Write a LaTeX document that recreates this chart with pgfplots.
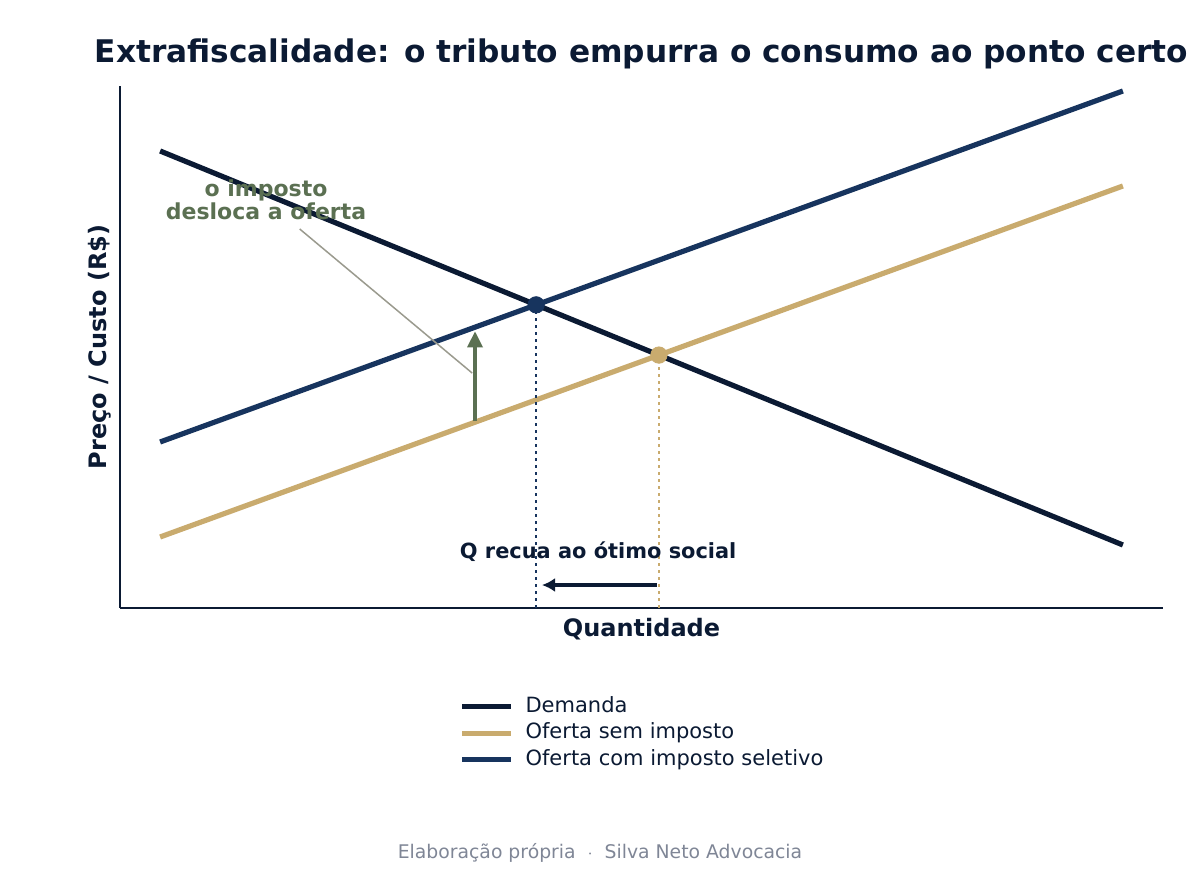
\documentclass[border=0pt]{standalone}
\usepackage{pgfplots}
\pgfplotsset{compat=1.18}
\usepackage{fontspec}
\setmainfont{DejaVu Sans}
\usetikzlibrary{arrows.meta}

\definecolor{navy}{HTML}{0B1A33}
\definecolor{supblue}{HTML}{17345E}
\definecolor{tan}{HTML}{C9AB6E}
\definecolor{sage}{HTML}{5B7052}
\definecolor{annogray}{HTML}{9A9A8E}
\definecolor{footgray}{HTML}{7F8696}

\begin{document}
\begin{tikzpicture}
    % page = 1200 x 870 px, 1px = 0.5pt
    \useasboundingbox (0,0) rectangle (600pt,435pt);
    \begin{axis}[
        at={(60pt,131pt)}, anchor=south west,
        scale only axis,
        width=521.5pt, height=261pt,
        xmin=0, xmax=13, ymin=0, ymax=10,
        axis lines=left,
        axis line style={-, navy, line width=1pt},
        xtick=\empty, ytick=\empty,
        clip=false,
        title={Extrafiscalidade: o tributo empurra o consumo ao ponto certo},
        title style={at={(axis description cs:0.5,1.0383)}, anchor=center,
            font=\fontsize{15.6}{18}\selectfont\bfseries, text=navy},
        xlabel={Quantidade},
        xlabel style={at={(axis description cs:0.5,-0.0402)}, anchor=center,
            font=\fontsize{12}{14}\selectfont\bfseries, text=navy},
        ylabel={Preço / Custo (R\$)},
        ylabel style={at={(axis description cs:-0.0195,0.5)}, anchor=center,
            font=\fontsize{12}{14}\selectfont\bfseries, text=navy},
        legend image code/.code={\draw[#1, line width=2.5pt] (0pt,0pt) -- (24.5pt,0pt);},
        legend cell align=left,
        legend style={at={(0.5,-0.163)}, anchor=north, draw=none, fill=none,
            inner sep=0pt, row sep=0pt, column sep=6pt,
            font=\fontsize{10.5}{12.6}\selectfont, text=navy,
            nodes={inner sep=0pt, text height=9.5pt, text depth=3.75pt}},
    ]
    % curvas
    \addplot[navy, line width=2.6pt] coordinates {(0.5,8.755) (12.5,1.207)};
    \addlegendentry{Demanda}
    \addplot[tan, line width=2.6pt] coordinates {(0.5,1.360) (12.5,8.084)};
    \addlegendentry{Oferta sem imposto}
    \addplot[supblue, line width=2.6pt] coordinates {(0.5,3.180) (12.5,9.904)};
    \addlegendentry{Oferta com imposto seletivo}

    % linhas pontilhadas até o eixo
    \addplot[supblue, line width=1.25pt, dash pattern=on 1.25pt off 2.25pt, forget plot] coordinates {(5.187,0) (5.187,5.807)};
    \addplot[tan, line width=1.25pt, dash pattern=on 1.25pt off 2.25pt, forget plot] coordinates {(6.717,0) (6.717,4.845)};

    % equilibrios
    \addplot[only marks, mark=*, mark size=4.1pt, mark options={fill=supblue, draw=supblue}, forget plot]
        coordinates {(5.187,5.807)};
    \addplot[only marks, mark=*, mark size=4.1pt, mark options={fill=tan, draw=tan}, forget plot]
        coordinates {(6.717,4.845)};

    % anotacoes
    \draw[sage, line width=1.7pt, -{Triangle[length=8pt,width=7.5pt]}] (axis cs:4.425,3.58) -- (axis cs:4.425,5.30);
    \draw[annogray, line width=0.75pt] (axis cs:2.24,7.26) -- (axis cs:4.39,4.50);
    \node[align=center, text=sage, font=\fontsize{11}{11.5}\selectfont\bfseries]
        at (axis cs:1.82,7.82) {o imposto\\desloca a oferta};
    \node[text=navy, font=\fontsize{10.45}{12}\selectfont\bfseries]
        at (axis cs:5.96,1.07) {Q recua ao ótimo social};
    \draw[navy, line width=1.7pt, -{Latex[length=6.5pt,width=7pt]}] (axis cs:6.69,0.44) -- (axis cs:5.26,0.44);
    \end{axis}
    \node[text=footgray, font=\fontsize{9.4}{11}\selectfont] at (300pt,8.5pt)
        {Elaboração própria \ $\cdot$ \ Silva Neto Advocacia};
\end{tikzpicture}
\end{document}
